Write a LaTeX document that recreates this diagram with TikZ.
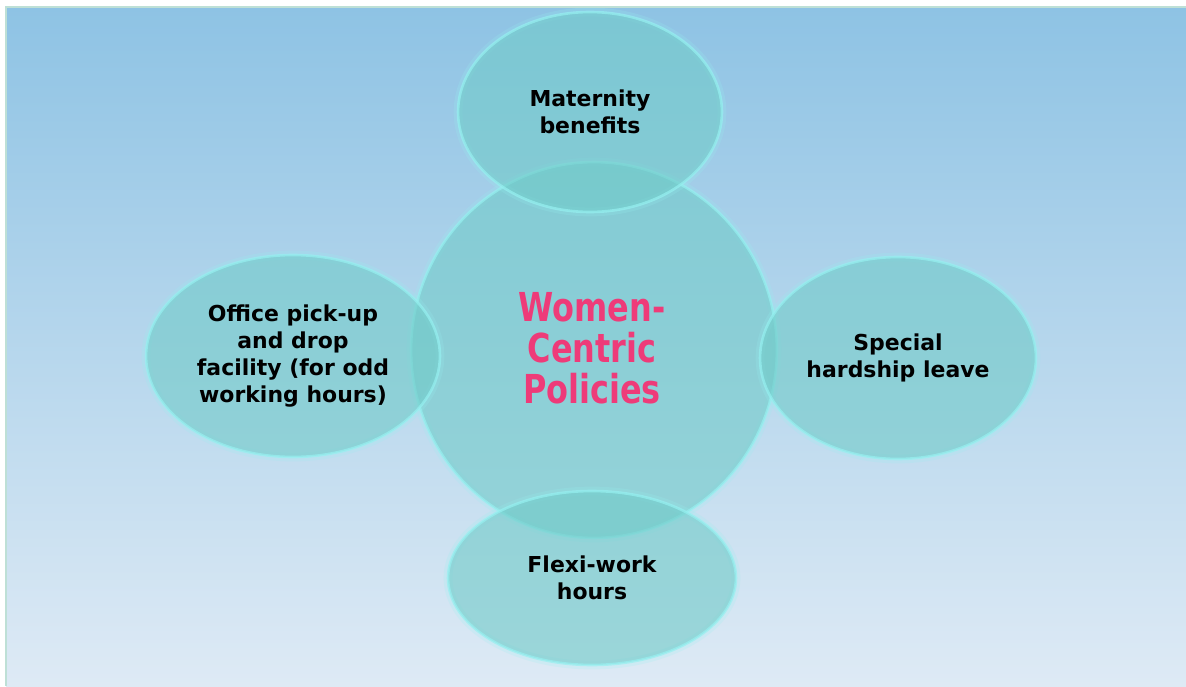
\documentclass[tikz,border=0pt]{standalone}
\usepackage{fontspec}
\setmainfont{DejaVu Sans}
\newfontfamily\centfont[FakeStretch=0.8]{DejaVu Sans Bold}
\usepackage{xcolor}
\usepackage{tikz}
\usetikzlibrary{shapes.geometric,positioning}

\definecolor{bgtop}{RGB}{142,195,228}
\definecolor{bgbottom}{RGB}{222,234,245}
\definecolor{bgedge}{RGB}{190,224,214}
\definecolor{bubfill}{RGB}{112,202,200}
\definecolor{bubrim}{RGB}{150,240,240}
\definecolor{hubpink}{RGB}{238,59,121}

\begin{document}
\begin{tikzpicture}[x=0.02cm, y=-0.02cm,
    bubble/.style={ellipse, inner sep=0pt, align=center,
        fill=bubfill, fill opacity=0.6, text opacity=1,
        draw=bubrim, draw opacity=0.7, line width=1.5pt,
        preaction={draw=bubrim, draw opacity=0.2, line width=5pt},
        font=\bfseries\fontsize{12.5}{15.4}\selectfont},
    hub/.style={bubble, text=hubpink,
        font=\centfont\fontsize{22.7}{23.3}\selectfont}]

    % Background
    \useasboundingbox (0,0) rectangle (1186,686);
    \shade[top color=bgtop, bottom color=bgbottom] (6,7) rectangle (1186,686);
    \draw[bgedge, line width=1.1pt] (6,686) -- (6,7) -- (1186,7);

    % Nodes
    \node[hub, minimum width=7.32cm, minimum height=7.52cm] (hub) at (594,350) {};
    \node[bubble, minimum width=5.28cm, minimum height=4cm] (maternity) at (590,112) {Maternity\\benefits};
    \node[bubble, minimum width=5.88cm, minimum height=4.04cm] (pickup) at (293,356) {Office pick-up\\and drop\\facility (for odd\\working hours)};
    \node[bubble, minimum width=5.52cm, minimum height=4.04cm] (hardship) at (898,358) {Special\\hardship leave};
    \node[bubble, minimum width=5.76cm, minimum height=3.48cm] (flexi) at (592,578) {Flexi-work\\hours};

    % Hub text
    \node[text=hubpink, align=center, inner sep=0pt,
        font=\centfont\fontsize{22.7}{23.3}\selectfont] (hubtext) at (592,348) {Women-\\Centric\\Policies};

\end{tikzpicture}
\end{document}
